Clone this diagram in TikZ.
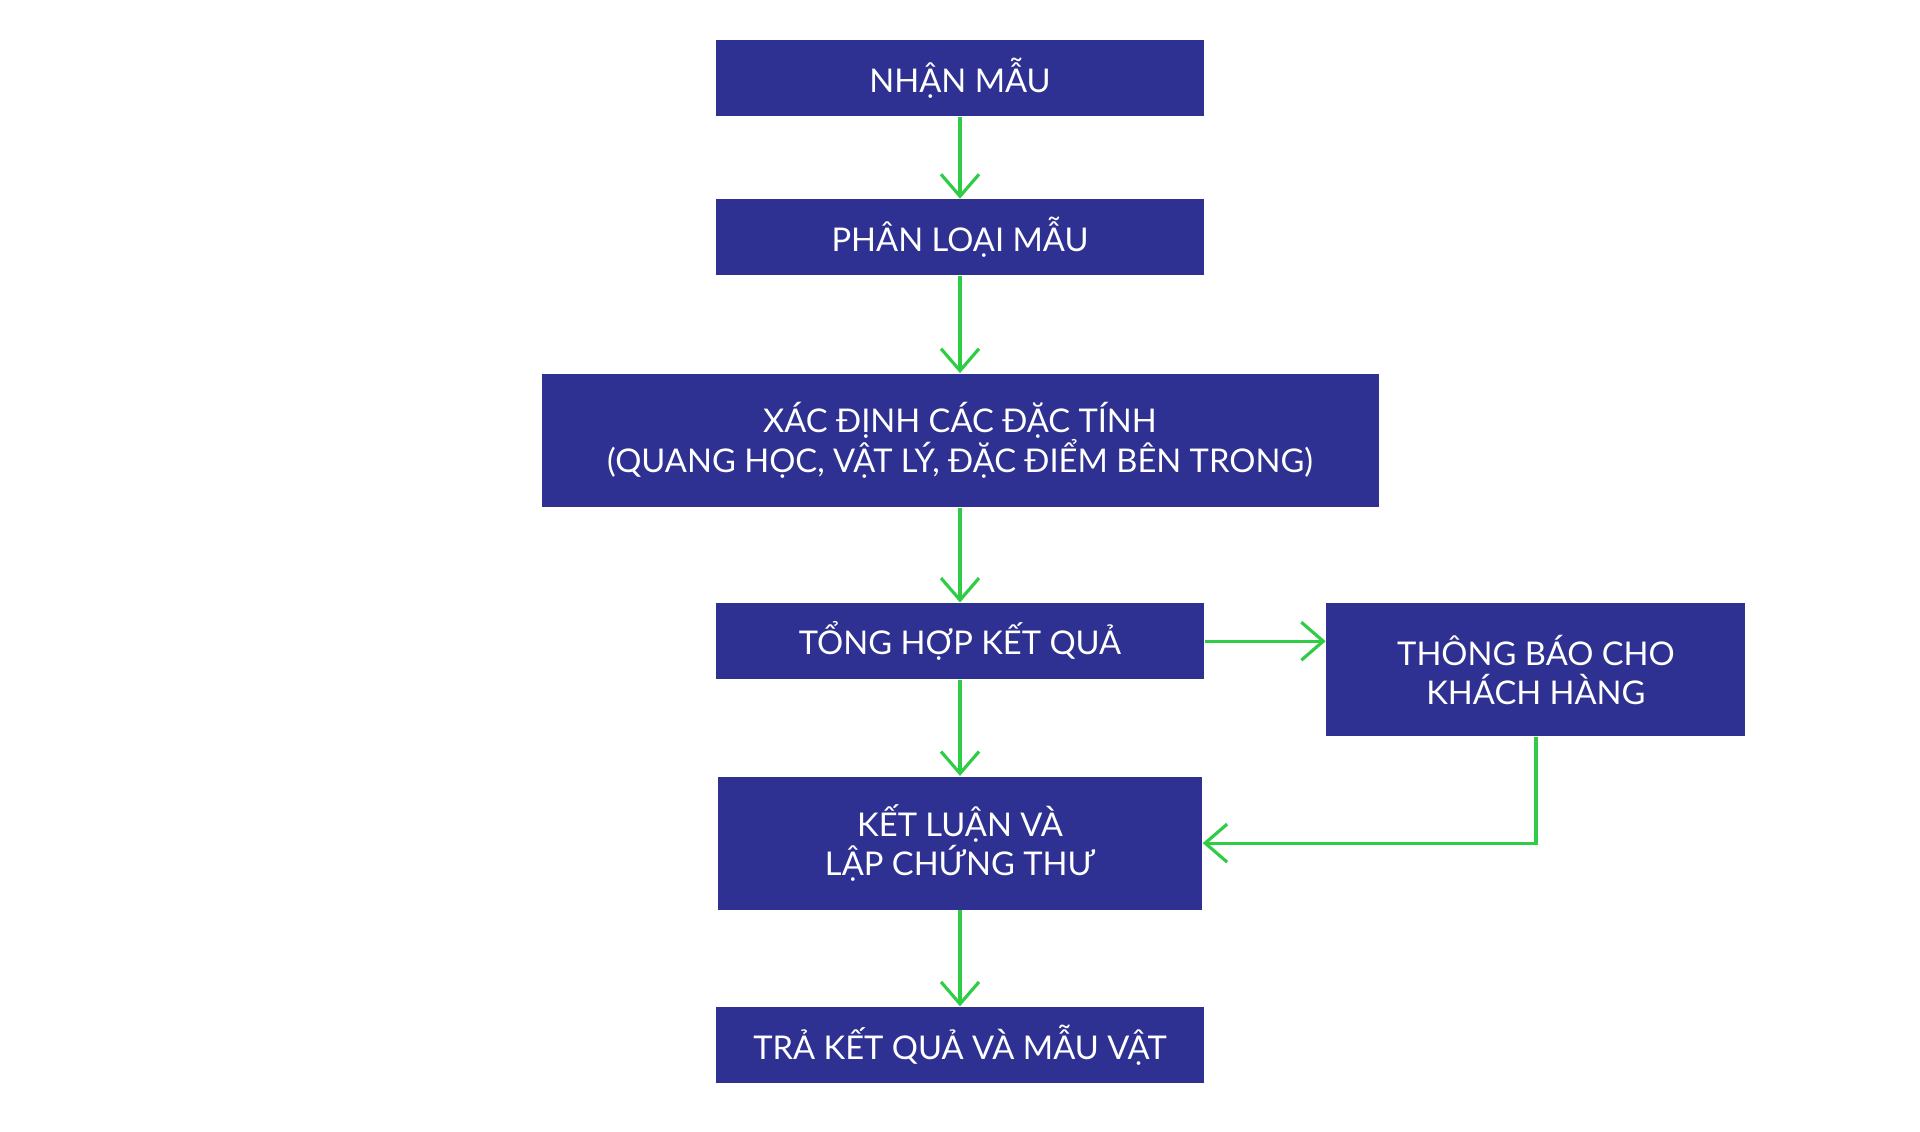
\documentclass[tikz,border=0pt]{standalone}
\usepackage{fontspec}
\setmainfont{Lato}
\usetikzlibrary{arrows.meta,positioning}
\definecolor{labnavy}{HTML}{2E3192}
\definecolor{labgreen}{HTML}{2FCC45}
\tikzset{
  bx/.style={fill=labnavy, text=white, align=center, inner sep=2pt, font=\fontsize{9.3}{11.2}\selectfont},
  arr/.style={-{Straight Barb[length=2.2mm, width=3.8mm]}, line width=0.9pt, color=labgreen},
}

\begin{document}
\begin{tikzpicture}[node distance=1mm, stage/.style={bx, minimum width=48.8mm, minimum height=7.6mm}, tall/.style={bx, minimum height=13.3mm}]
  \useasboundingbox (0,0) rectangle (19.2,11.31);
  \node[stage] (s1) at (9.6,10.53) {NHẬN MẪU};
  \node[stage, below=8.2mm of s1] (s2) {PHÂN LOẠI MẪU};
  \node[tall, minimum width=83.7mm, below=9.7mm of s2] (s3) {XÁC ĐỊNH CÁC ĐẶC TÍNH\\(QUANG HỌC, VẬT LÝ, ĐẶC ĐIỂM BÊN TRONG)};
  \node[stage, below=9.5mm of s3] (s4) {TỔNG HỢP KẾT QUẢ};
  \node[tall, minimum width=41.9mm, right=12.1mm of s4.north east, anchor=north west] (s5) {THÔNG BÁO CHO\\KHÁCH HÀNG};
  \node[tall, minimum width=48.4mm, below=9.6mm of s4] (s6) {KẾT LUẬN VÀ\\LẬP CHỨNG THƯ};
  \node[stage, below=9.6mm of s6] (s7) {TRẢ KẾT QUẢ VÀ MẪU VẬT};
  \foreach \a/\b in {s1/s2,s2/s3,s3/s4,s4/s6,s6/s7} \draw[arr] (\a) -- (\b);
  \draw[arr] (s4.east) -- (s4.east -| s5.west);
  \draw[arr] (s5.south) |- (s6.east);
\end{tikzpicture}
\end{document}
